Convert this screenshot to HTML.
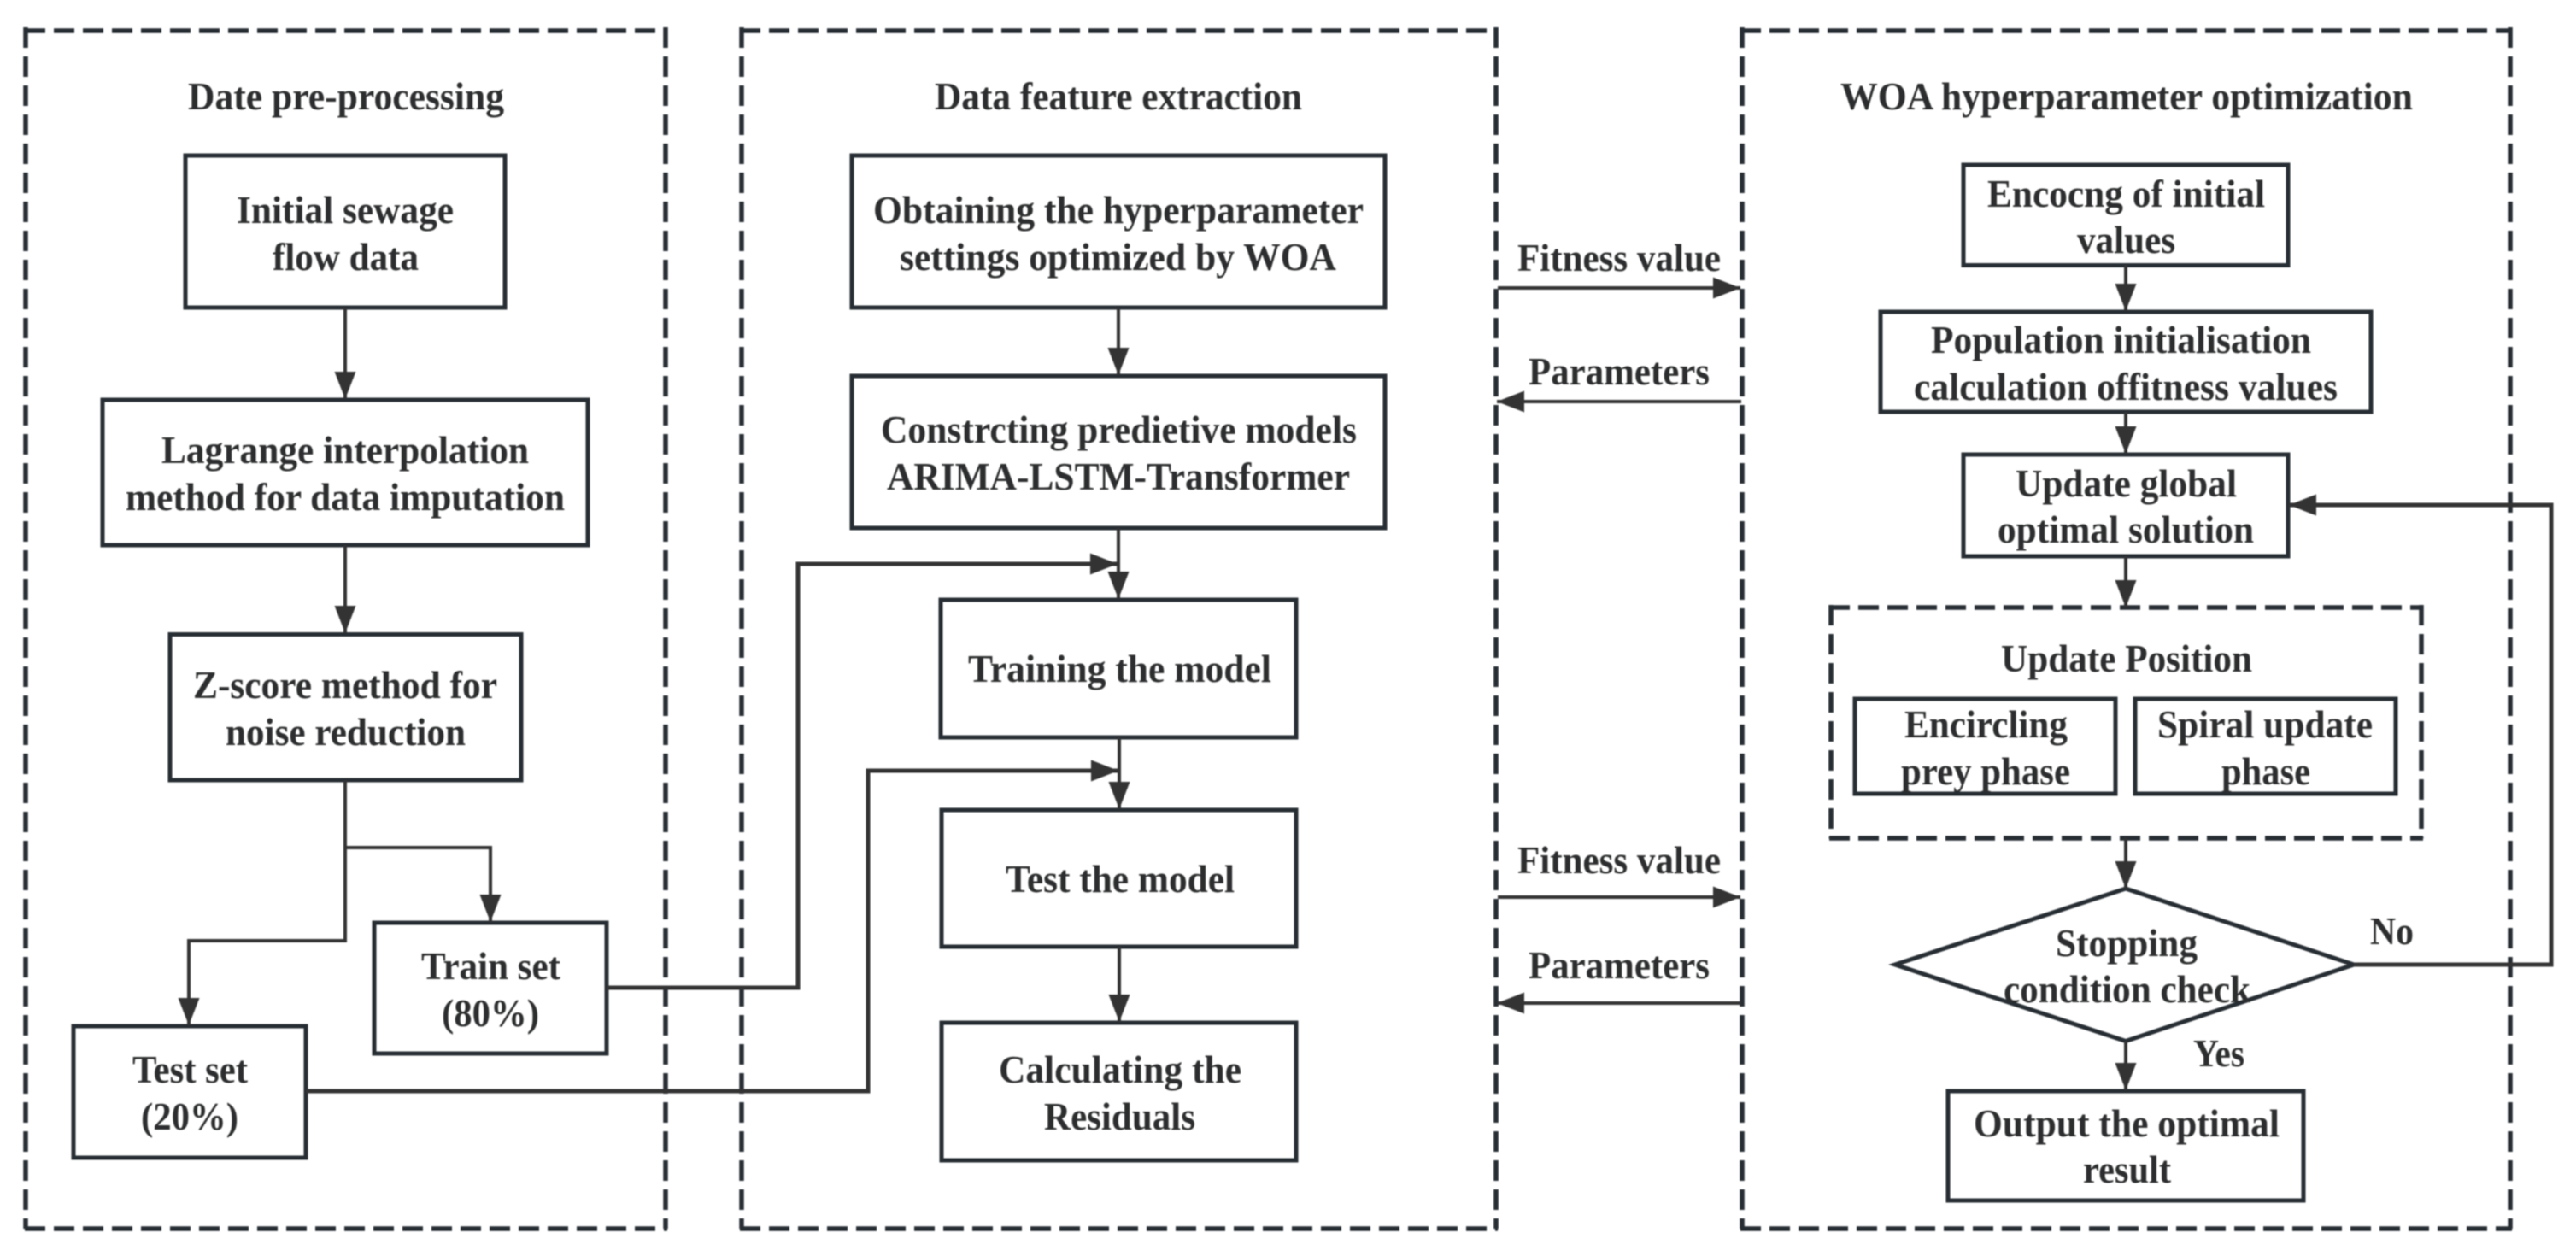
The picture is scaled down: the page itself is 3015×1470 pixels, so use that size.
<!DOCTYPE html>
<html><head><meta charset="utf-8"><style>
html,body{margin:0;padding:0;background:#fff;width:3015px;height:1470px;overflow:hidden}
svg{display:block;filter:blur(.7px)}
text{font-family:"Liberation Serif",serif;font-weight:bold;font-size:46px;fill:#2c2d2e}
.b{fill:none;stroke:#262d33;stroke-width:5}
.d{fill:none;stroke:#262d33;stroke-width:5.5;stroke-dasharray:24 10}
.a{fill:none;stroke:#333;stroke-width:4}
.h{fill:#333}
</style></head><body>
<svg xmlns="http://www.w3.org/2000/svg" width="3015" height="1470" viewBox="0 0 3015 1470">
<defs><marker id="m" markerUnits="userSpaceOnUse" markerWidth="32" markerHeight="25" viewBox="0 0 32 25" refX="32" refY="12.5" orient="auto"><path class="h" d="M0 0L32 12.5L0 25z"/></marker></defs>
<rect width="3015" height="1470" fill="#fff"/>

<!-- groups -->
<path class="d" d="M29 36H779"/><path class="d" d="M30 32V1438"/><path class="d" d="M779 32V1438"/><path class="d" d="M29 1438H781"/>
<path class="d" d="M866 36H1751"/><path class="d" d="M868 32V1438"/><path class="d" d="M1751 32V1438"/><path class="d" d="M866 1438H1753"/>
<path class="d" d="M2037 36H2938"/><path class="d" d="M2039 32V1438"/><path class="d" d="M2938 32V1438"/><path class="d" d="M2037 1438H2940"/>
<path class="d" d="M2141 711H2834"/><path class="d" d="M2143 708V981"/><path class="d" d="M2834 708V981"/><path class="d" d="M2141 981H2836"/>

<!-- boxes -->
<rect class="b" x="217" y="182" width="374" height="178"/>
<rect class="b" x="120" y="468" width="568" height="170"/>
<rect class="b" x="199" y="742.500" width="411" height="170.500"/>
<rect class="b" x="438" y="1080" width="272" height="153"/>
<rect class="b" x="86" y="1201" width="272" height="154"/>
<rect class="b" x="997" y="182" width="624" height="178"/>
<rect class="b" x="997" y="440" width="624" height="178"/>
<rect class="b" x="1101" y="702" width="416" height="161"/>
<rect class="b" x="1102" y="948" width="415" height="160"/>
<rect class="b" x="1102" y="1197" width="415" height="161"/>
<rect class="b" x="2298" y="193" width="380" height="117.500"/>
<rect class="b" x="2201" y="365" width="574" height="117"/>
<rect class="b" x="2298" y="532" width="380" height="119"/>
<rect class="b" x="2171" y="818" width="305" height="111"/>
<rect class="b" x="2499" y="818" width="305" height="111"/>
<polygon class="b" points="2488,1040 2755,1129 2488,1218.500 2218,1129"/>
<rect class="b" x="2280" y="1277" width="416" height="128"/>

<!-- connectors -->
<g class="a">
<path d="M404 360V467" marker-end="url(#m)"/>
<path d="M404 638V741" marker-end="url(#m)"/>
<path d="M404 913V1101H221V1200" marker-end="url(#m)"/>
<path d="M404 992H574V1079" marker-end="url(#m)"/>
<path d="M710 1156H934V660H1308" marker-end="url(#m)" stroke-width="5"/>
<path d="M358 1277H1016V902H1309" marker-end="url(#m)" stroke-width="5"/>
<path d="M1309 360V439" marker-end="url(#m)"/>
<path d="M1309 618V701" marker-end="url(#m)"/>
<path d="M1310 863V947" marker-end="url(#m)"/>
<path d="M1310 1108V1196" marker-end="url(#m)"/>
<path d="M1753 337H2037" marker-end="url(#m)"/>
<path d="M2038 470H1752" marker-end="url(#m)"/>
<path d="M1753 1050H2037" marker-end="url(#m)"/>
<path d="M2038 1174H1752" marker-end="url(#m)"/>
<path d="M2488 310V364" marker-end="url(#m)"/>
<path d="M2488 482V531" marker-end="url(#m)"/>
<path d="M2488 651V711" marker-end="url(#m)"/>
<path d="M2488 981V1040" marker-end="url(#m)"/>
<path d="M2488 1218V1276" marker-end="url(#m)"/>
<path d="M2755 1129H2986V591H2679" marker-end="url(#m)" stroke-width="5"/>
</g>

<!-- labels -->
<text x="220" y="128" textLength="370" lengthAdjust="spacingAndGlyphs">Date pre-processing</text>
<text x="277" y="261" textLength="254" lengthAdjust="spacingAndGlyphs">Initial sewage</text>
<text x="319" y="316" textLength="171" lengthAdjust="spacingAndGlyphs">flow data</text>
<text x="189" y="542" textLength="430" lengthAdjust="spacingAndGlyphs">Lagrange interpolation</text>
<text x="147" y="597" textLength="514" lengthAdjust="spacingAndGlyphs">method for data imputation</text>
<text x="226" y="817" textLength="356" lengthAdjust="spacingAndGlyphs">Z-score method for</text>
<text x="264" y="872" textLength="281" lengthAdjust="spacingAndGlyphs">noise reduction</text>
<text x="493" y="1146" textLength="163" lengthAdjust="spacingAndGlyphs">Train set</text>
<text x="517" y="1201" textLength="114" lengthAdjust="spacingAndGlyphs">(80%)</text>
<text x="155" y="1267" textLength="135" lengthAdjust="spacingAndGlyphs">Test set</text>
<text x="165" y="1322" textLength="114" lengthAdjust="spacingAndGlyphs">(20%)</text>

<text x="1094" y="128" textLength="430" lengthAdjust="spacingAndGlyphs">Data feature extraction</text>
<text x="1022" y="261" textLength="574" lengthAdjust="spacingAndGlyphs">Obtaining the hyperparameter</text>
<text x="1053" y="316" textLength="511" lengthAdjust="spacingAndGlyphs">settings optimized by WOA</text>
<text x="1031" y="518" textLength="557" lengthAdjust="spacingAndGlyphs">Constrcting predietive models</text>
<text x="1038" y="573" textLength="542" lengthAdjust="spacingAndGlyphs">ARIMA-LSTM-Transformer</text>
<text x="1133" y="798" textLength="355" lengthAdjust="spacingAndGlyphs">Training the model</text>
<text x="1177" y="1044" textLength="268" lengthAdjust="spacingAndGlyphs">Test the model</text>
<text x="1169" y="1267" textLength="284" lengthAdjust="spacingAndGlyphs">Calculating the</text>
<text x="1222" y="1322" textLength="177" lengthAdjust="spacingAndGlyphs">Residuals</text>

<text x="1776" y="317" textLength="238" lengthAdjust="spacingAndGlyphs">Fitness value</text>
<text x="1789" y="450" textLength="212" lengthAdjust="spacingAndGlyphs">Parameters</text>
<text x="1776" y="1022" textLength="238" lengthAdjust="spacingAndGlyphs">Fitness value</text>
<text x="1789" y="1145" textLength="212" lengthAdjust="spacingAndGlyphs">Parameters</text>

<text x="2154" y="128" textLength="670" lengthAdjust="spacingAndGlyphs">WOA hyperparameter optimization</text>
<text x="2326" y="242" textLength="325" lengthAdjust="spacingAndGlyphs">Encocng of initial</text>
<text x="2431" y="296" textLength="115" lengthAdjust="spacingAndGlyphs">values</text>
<text x="2260" y="413" textLength="445" lengthAdjust="spacingAndGlyphs">Population initialisation</text>
<text x="2240" y="468" textLength="496" lengthAdjust="spacingAndGlyphs">calculation offitness values</text>
<text x="2359" y="581" textLength="259" lengthAdjust="spacingAndGlyphs">Update global</text>
<text x="2338" y="635" textLength="300" lengthAdjust="spacingAndGlyphs">optimal solution</text>
<text x="2342" y="786" textLength="294" lengthAdjust="spacingAndGlyphs">Update Position</text>
<text x="2229" y="863" textLength="191" lengthAdjust="spacingAndGlyphs">Encircling</text>
<text x="2225" y="918" textLength="198" lengthAdjust="spacingAndGlyphs">prey phase</text>
<text x="2525" y="863" textLength="252" lengthAdjust="spacingAndGlyphs">Spiral update</text>
<text x="2600" y="918" textLength="104" lengthAdjust="spacingAndGlyphs">phase</text>
<text x="2406" y="1119" textLength="166" lengthAdjust="spacingAndGlyphs">Stopping</text>
<text x="2345" y="1173" textLength="289" lengthAdjust="spacingAndGlyphs">condition check</text>
<text x="2774" y="1105" textLength="51" lengthAdjust="spacingAndGlyphs">No</text>
<text x="2567" y="1248" textLength="60" lengthAdjust="spacingAndGlyphs">Yes</text>
<text x="2310" y="1330" textLength="358" lengthAdjust="spacingAndGlyphs">Output the optimal</text>
<text x="2438" y="1384" textLength="103" lengthAdjust="spacingAndGlyphs">result</text>
</svg>
</body></html>
